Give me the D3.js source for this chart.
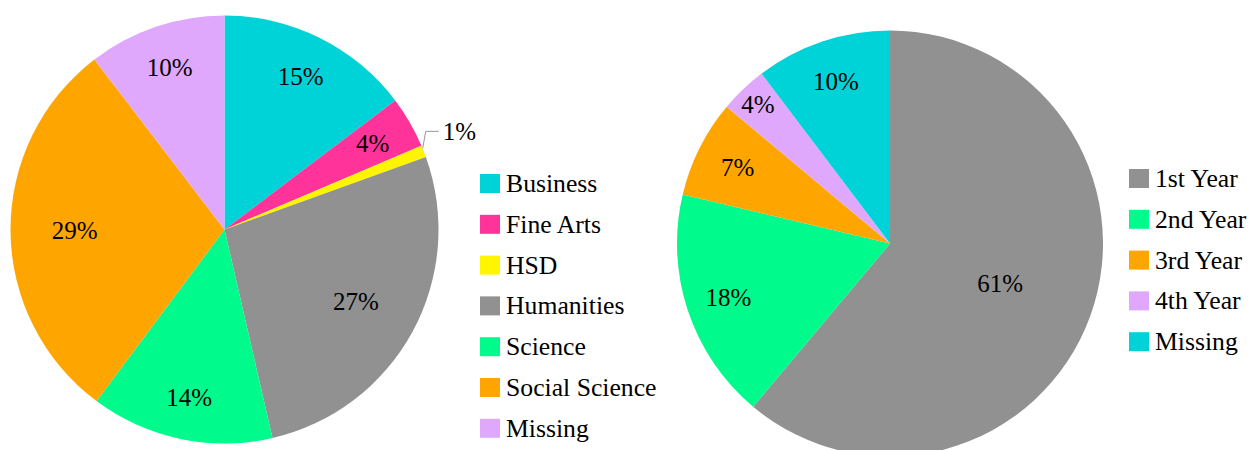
<!DOCTYPE html>
<html>
<head>
<meta charset="utf-8">
<script src="https://cdn.jsdelivr.net/npm/d3@7"></script>
</head>
<body style="margin:0">
<svg id="chart" width="1251" height="450"></svg>
<script>
// ---- Data ----
const collegeCategories = ["Business", "Fine Arts", "HSD", "Humanities", "Science", "Social Science", "Missing"];
const collegeValues     = [14.7, 3.9, 0.9, 26.9, 13.8, 29.4, 10.4];
const collegeColors     = ["#00D3D8", "#FF3399", "#FFF500", "#919191", "#00FA8C", "#FFA500", "#E0A8FC"];

const yearCategories = ["1st Year", "2nd Year", "3rd Year", "4th Year", "Missing"];
const yearValues     = [61.1, 17.6, 7.4, 3.6, 10.3];
const yearColors     = ["#919191", "#00FA8C", "#FFA500", "#E0A8FC", "#00D3D8"];

const svg = d3.select("#chart");
const LABEL_FONT = 25;
const LEGEND_FONT = 25.7;
const FAMILY = "Liberation Serif";

function drawPie(opts) {
  const { cats, vals, colors, cx, cy, R, legendX, legendY, outsideIdx } = opts;
  const total = d3.sum(vals);
  const pie = d3.pie().sort(null).value(d => d.v);
  const arcs = pie(cats.map((c, i) => ({ c, v: vals[i], col: colors[i] })));
  const arc = d3.arc().innerRadius(0).outerRadius(R);

  const g = svg.append("g").attr("transform", `translate(${cx},${cy})`);
  g.selectAll("path.slice").data(arcs).enter().append("path")
    .attr("class", "slice")
    .attr("d", arc)
    .attr("fill", d => d.data.col);

  arcs.forEach((d, i) => {
    const frac = d.data.v / total;
    const pct = Math.round(frac * 100 + 1e-9) + "%";
    const mid = (d.startAngle + d.endAngle) / 2;
    if (i === outsideIdx) {
      const sx = Math.sin(mid) * R, sy = -Math.cos(mid) * R;
      const ly = sy - 20;
      g.append("polyline")
        .attr("points", `${sx - 1},${sy - 3} ${sx + 2},${ly} ${sx + 15},${ly}`)
        .attr("fill", "none").attr("stroke", "#999").attr("stroke-width", 1);
      g.append("text").attr("x", sx + 19).attr("y", ly + 8.5)
        .style("font-family", FAMILY)
        .attr("font-size", LABEL_FONT)
        .text(pct);
      return;
    }
    let f;
    if (frac > 0.5) f = 0.55;
    else if (frac > 0.25) f = 0.7;
    else if (frac < 0.038) f = 0.9;
    else f = 0.8;
    const lr = R * f;
    g.append("text")
      .attr("x", Math.sin(mid) * lr)
      .attr("y", -Math.cos(mid) * lr + 8.5)
      .attr("text-anchor", "middle")
      .style("font-family", FAMILY)
      .attr("font-size", LABEL_FONT)
      .text(pct);
  });

  const lg = svg.append("g").attr("transform", `translate(${legendX},${legendY})`);
  const rowH = 40.8;
  const items = lg.selectAll("g.item").data(arcs).enter().append("g")
    .attr("class", "item")
    .attr("transform", (d, i) => `translate(0,${i * rowH})`);
  items.append("rect").attr("x", 0).attr("y", -9.5).attr("width", 20).attr("height", 19)
    .attr("fill", d => d.data.col);
  items.append("text").attr("x", 26).attr("y", 8.5)
    .style("font-family", FAMILY)
    .attr("font-size", LEGEND_FONT)
    .text(d => d.data.c);
}

drawPie({
  cats: collegeCategories, vals: collegeValues, colors: collegeColors,
  cx: 224.5, cy: 229.5, R: 214, legendX: 480, legendY: 183.5, outsideIdx: 2
});

drawPie({
  cats: yearCategories, vals: yearValues, colors: yearColors,
  cx: 890, cy: 243.5, R: 213, legendX: 1129, legendY: 178.5, outsideIdx: -1
});
</script>
</body>
</html>
